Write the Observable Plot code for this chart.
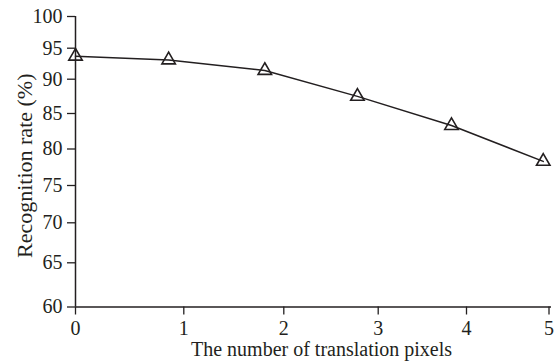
<!DOCTYPE html>
<html>
<head>
<meta charset="utf-8">
<script src="https://cdn.jsdelivr.net/npm/d3@7"></script>
<script src="https://cdn.jsdelivr.net/npm/@observablehq/plot@0.6"></script>
<style>
  html, body { margin: 0; padding: 0; background: #fff; }
</style>
</head>
<body>
<div id="chart"></div>
<script>
// Data
const xValues = [0, 0.86, 1.81, 2.78, 3.83, 4.93];
const yValues = [93.7, 93.1, 91.4, 87.5, 83.3, 78.3];
const xTicks = [0, 1, 2, 3, 4, 5];
const yTicks = [60, 65, 70, 75, 80, 85, 90, 95, 100];
const xTitle = "The number of translation pixels";
const yTitle = "Recognition rate (%)";

const data = xValues.map((x, i) => ({x, y: yValues[i]}));
const ink = "#231f20";
const serif = "'Liberation Serif', 'Times New Roman', serif";

const chart = Plot.plot({
  width: 555,
  height: 362,
  marginTop: 16,
  marginBottom: 55.5,
  marginLeft: 75,
  marginRight: 4,
  style: {
    fontFamily: serif,
    fontSize: "20px",
    color: ink,
    background: "white"
  },
  x: {type: "linear", domain: xTicks, range: [75, 183.3, 283.3, 377.7, 466, 548.5]},
  y: {type: "linear", domain: yTicks, range: [306.5, 262.3, 222.3, 185, 148.5, 113, 78.7, 47.7, 16]},
  marks: [
    Plot.axisX({ticks: xTicks, tickSize: 8, tickPadding: 6, label: null, tickFormat: d => String(d), stroke: ink, strokeWidth: 1.3, fontFamily: serif, fontSize: 20}),
    Plot.axisY({ticks: yTicks, tickSize: 8, tickPadding: 5, label: null, tickFormat: d => String(d), stroke: ink, strokeWidth: 1.3, fontFamily: serif, fontSize: 20}),
    Plot.ruleX([xTicks[0]], {stroke: ink, strokeWidth: 1.5}),
    Plot.ruleY([yTicks[0]], {stroke: ink, strokeWidth: 1.5}),
    Plot.line(data, {x: "x", y: "y", stroke: ink, strokeWidth: 1.5}),
    Plot.dot(data, {x: "x", y: "y", symbol: "triangle", r: 5, stroke: ink, fill: "none", strokeWidth: 1.6}),
    Plot.text([xTitle], {frameAnchor: "bottom", textAnchor: "middle", lineAnchor: "bottom", dy: 49, dx: 8, fontSize: 20, fontFamily: serif, fill: ink}),
    Plot.text([yTitle], {frameAnchor: "left", textAnchor: "middle", rotate: -90, lineAnchor: "bottom", dx: -44, dy: 4, fontSize: 22, fontFamily: serif, fill: ink})
  ]
});

document.getElementById("chart").appendChild(chart);
</script>
</body>
</html>
